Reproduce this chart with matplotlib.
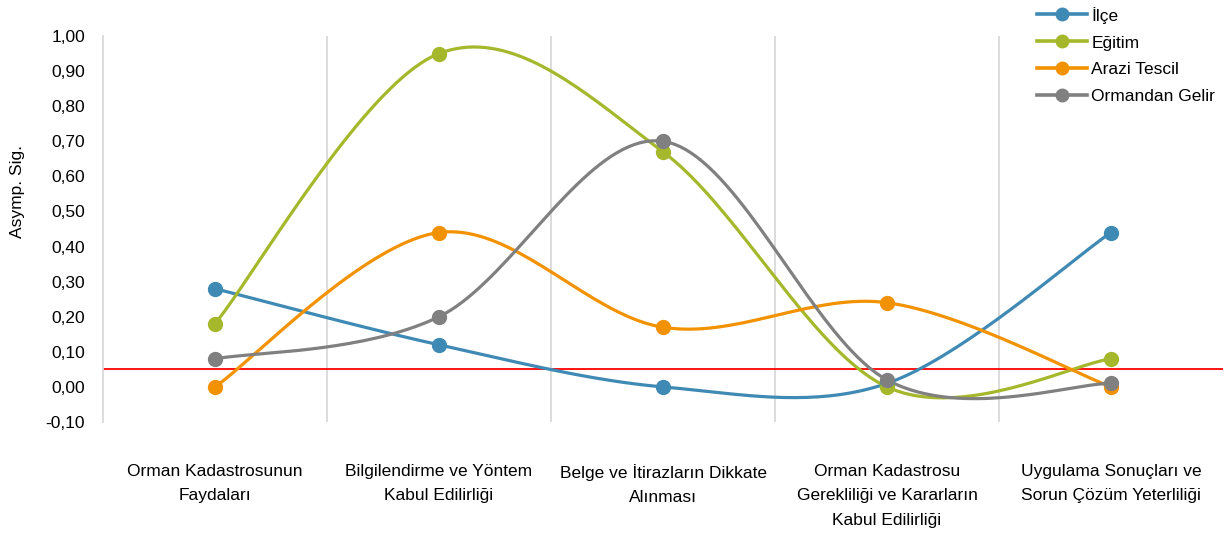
import numpy as np
import matplotlib.pyplot as plt

plt.rcParams['font.family'] = ['Liberation Sans', 'DejaVu Sans']

categories = [
    "Orman Kadastrosunun\nFaydaları",
    "Bilgilendirme ve Yöntem\nKabul Edilirliği",
    "Belge ve İtirazların Dikkate\nAlınması",
    "Orman Kadastrosu\nGerekliliği ve Kararların\nKabul Edilirliği",
    "Uygulama Sonuçları ve\nSorun Çözüm Yeterliliği",
]
ilce = [0.28, 0.12, 0.00, 0.01, 0.44]
egitim = [0.18, 0.95, 0.67, 0.00, 0.08]
arazi = [0.00, 0.44, 0.17, 0.24, 0.00]
ormandan = [0.08, 0.20, 0.70, 0.02, 0.01]
series_names = ["İlçe", "Eğitim", "Arazi Tescil", "Ormandan Gelir"]
threshold = 0.05

colors = ["#3F8AB5", "#A5B82B", "#F39200", "#808080"]


def smooth(x, y, n=40):
    """Bezier smoothing like spreadsheet 'smoothed line'."""
    x = np.asarray(x, float)
    y = np.asarray(y, float)
    pts = np.column_stack([x, y])
    out = []
    for i in range(len(pts) - 1):
        p0 = pts[max(i - 1, 0)]
        p1 = pts[i]
        p2 = pts[i + 1]
        p3 = pts[min(i + 2, len(pts) - 1)]
        c1 = p1 + (p2 - p0) / 6
        c2 = p2 - (p3 - p1) / 6
        t = np.linspace(0, 1, n)[:, None]
        seg = ((1 - t) ** 3) * p1 + 3 * ((1 - t) ** 2) * t * c1 + 3 * (1 - t) * t ** 2 * c2 + t ** 3 * p2
        out.append(seg if i == 0 else seg[1:])
    seg = np.vstack(out)
    return seg[:, 0], seg[:, 1]


fig = plt.figure(figsize=(12.24, 5.37), dpi=100)
ax = fig.add_axes([103 / 1224, 115 / 537, 1120 / 1224, 386 / 537])

x = np.arange(len(categories))
for name, vals, c in zip(series_names, [ilce, egitim, arazi, ormandan], colors):
    sx, sy = smooth(x, vals)
    ax.plot(sx, sy, color=c, lw=2.3, solid_capstyle="round", zorder=3)
    ax.plot(x, vals, "o", color=c, ms=10, zorder=4)
    ax.plot([], [], color=c, lw=2.6, marker="o", ms=9, label=name)

ax.axhline(threshold, color="#FF0000", lw=1.3, zorder=2)

ax.set_xlim(-0.5, len(categories) - 0.5)
ax.set_ylim(-0.1, 1.0)
yt = np.arange(-0.1, 1.01, 0.1)
ax.set_yticks(yt)
ax.set_yticklabels([f"{v:.2f}".replace(".", ",") for v in yt], fontsize=12.5)
ax.set_xticks(x)
ax.set_xticklabels(categories, fontsize=12.5, linespacing=1.8, va="top")
ax.tick_params(axis="both", length=0)
ax.tick_params(axis="x", pad=30)
ax.tick_params(axis="y", pad=13)

# category separators
for b in np.arange(0.5, len(categories) - 1, 1):
    ax.axvline(b, color="#D9D9D9", lw=1.3, zorder=1)

for s in ["top", "right", "bottom"]:
    ax.spines[s].set_visible(False)
ax.spines["left"].set_color("#D9D9D9")
ax.spines["left"].set_linewidth(1.3)

ax.set_ylabel("Asymp. Sig.", fontsize=12.5)
ax.yaxis.set_label_coords(-0.070, 0.596)

leg = ax.legend(loc="upper left", bbox_to_anchor=(1030 / 1224, 1.0), bbox_transform=fig.transFigure,
                frameon=False, fontsize=12.5, handlelength=2.9, handletextpad=0.25,
                labelspacing=0.68, borderaxespad=0, borderpad=0.38)

fig.savefig("out.png", dpi=100)
